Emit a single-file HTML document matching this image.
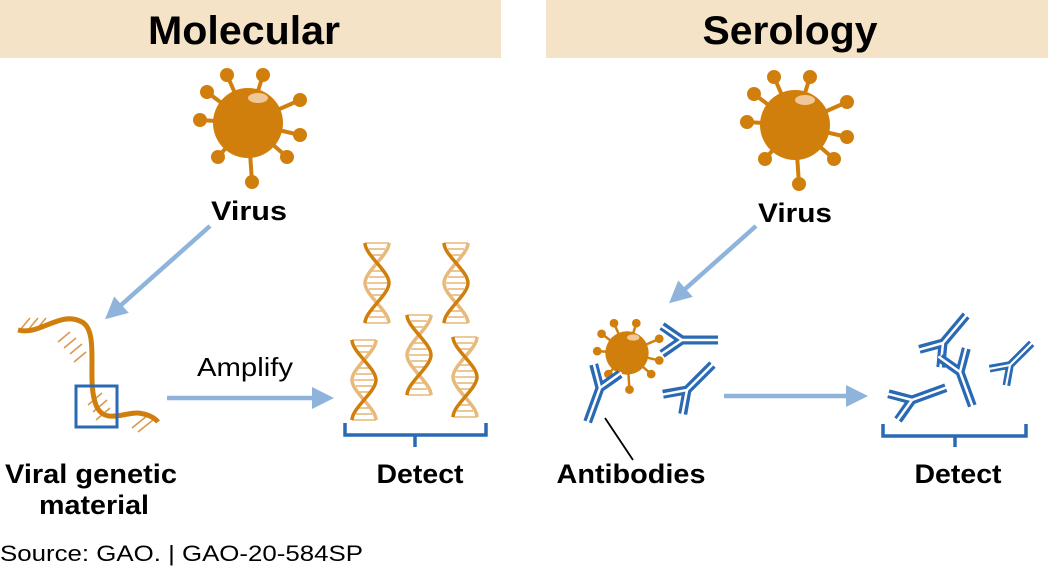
<!DOCTYPE html>
<html><head><meta charset="utf-8"><style>
html,body{margin:0;padding:0;background:#fff}
svg{display:block}
text{font-family:"Liberation Sans",Arial,sans-serif}
</style></head><body>
<svg width="1048" height="574" viewBox="0 0 1048 574" xmlns="http://www.w3.org/2000/svg">
<defs>
<symbol id="virus" overflow="visible">
<g stroke="#d17f0c" stroke-width="4" fill="#d17f0c">
<line x1="0" y1="0" x2="-21" y2="-48"/><line x1="0" y1="0" x2="15" y2="-48"/>
<line x1="0" y1="0" x2="-41" y2="-31"/><line x1="0" y1="0" x2="52" y2="-23"/>
<line x1="0" y1="0" x2="-48" y2="-3"/><line x1="0" y1="0" x2="52" y2="12"/>
<line x1="0" y1="0" x2="-30" y2="34"/><line x1="0" y1="0" x2="39" y2="34"/>
<line x1="0" y1="0" x2="4" y2="59"/>
<g stroke="none">
<circle cx="-21" cy="-48" r="7"/><circle cx="15" cy="-48" r="7"/>
<circle cx="-41" cy="-31" r="7"/><circle cx="52" cy="-23" r="7"/>
<circle cx="-48" cy="-3" r="7"/><circle cx="52" cy="12" r="7"/>
<circle cx="-30" cy="34" r="7"/><circle cx="39" cy="34" r="7"/>
<circle cx="4" cy="59" r="7"/>
<circle cx="0" cy="0" r="35"/></g>
</g>
<ellipse cx="10" cy="-25" rx="10" ry="5" fill="#f0c898"/>
</symbol>
<symbol id="dna" overflow="visible">
<g stroke="#e8b97a" stroke-width="1.6">
<line x1="2" y1="0" x2="26" y2="0"/><line x1="6" y1="6" x2="22" y2="6"/><line x1="9" y1="12" x2="19" y2="12"/>
<line x1="9" y1="28" x2="19" y2="28"/><line x1="6" y1="34" x2="22" y2="34"/><line x1="6" y1="46" x2="22" y2="46"/>
<line x1="9" y1="52" x2="19" y2="52"/><line x1="9" y1="68" x2="19" y2="68"/><line x1="6" y1="74" x2="22" y2="74"/><line x1="2" y1="80" x2="26" y2="80"/>
<line x1="4" y1="40" x2="24" y2="40"/>
</g>
<path d="M26 0 C26 12 2 28 2 40 C2 52 26 68 26 80" fill="none" stroke="#e8b97a" stroke-width="3.5"/>
<path d="M2 0 C2 12 26 28 26 40 C26 52 2 68 2 80" fill="none" stroke="#d17f0c" stroke-width="3.5"/>
</symbol>
<symbol id="ab" overflow="visible">
<path d="M0 36 L0 0 L-14 -20 M0 0 L14 -20" fill="none" stroke="#2a6ab5" stroke-width="9"/>
<path d="M0 38 L0 0 L-15 -22 M0 0 L15 -22" fill="none" stroke="#fff" stroke-width="2.5"/>
</symbol>
<marker id="ah" markerWidth="8" markerHeight="8" refX="2" refY="4" orient="auto" markerUnits="userSpaceOnUse" viewBox="0 0 8 8" style="overflow:visible">
<path d="M0 -7 L22 4 L0 15 Z" fill="#8fb4dc"/>
</marker>
</defs>

<rect x="0" y="0" width="501" height="58" fill="#f5e3c8"/>
<rect x="546" y="0" width="502" height="58" fill="#f5e3c8"/>
<text x="244" y="44" font-size="40" font-weight="bold" text-anchor="middle" textLength="192" lengthAdjust="spacingAndGlyphs">Molecular</text>
<text x="790" y="44" font-size="40" font-weight="bold" text-anchor="middle" textLength="175" lengthAdjust="spacingAndGlyphs">Serology</text>

<use href="#virus" x="248" y="123"/>
<use href="#virus" x="795" y="125"/>
<text x="249" y="220" font-size="27" font-weight="bold" text-anchor="middle" textLength="76" lengthAdjust="spacingAndGlyphs">Virus</text>
<text x="795" y="222" font-size="27" font-weight="bold" text-anchor="middle" textLength="74" lengthAdjust="spacingAndGlyphs">Virus</text>

<g stroke="#8fb4dc" stroke-width="4.5" fill="none">
<line x1="210" y1="226" x2="120" y2="306" marker-end="url(#ah)"/>
<line x1="167" y1="398" x2="314" y2="398" marker-end="url(#ah)"/>
<line x1="756" y1="226" x2="684" y2="290" marker-end="url(#ah)"/>
<line x1="724" y1="396" x2="848" y2="396" marker-end="url(#ah)"/>
</g>

<!-- strand -->
<g stroke="#d9994a" stroke-width="1.6">
<line x1="30" y1="318" x2="20" y2="330"/><line x1="38" y1="318" x2="28" y2="330"/><line x1="46" y1="318" x2="36" y2="330"/>
<line x1="70" y1="332" x2="58" y2="342"/><line x1="76" y1="338" x2="64" y2="348"/><line x1="82" y1="344" x2="70" y2="354"/><line x1="86" y1="352" x2="74" y2="362"/>
<line x1="102" y1="393" x2="88" y2="405"/><line x1="107" y1="400" x2="93" y2="412"/><line x1="110" y1="408" x2="96" y2="420"/>
<line x1="148" y1="415" x2="132" y2="428"/><line x1="153" y1="420" x2="138" y2="432"/>
</g>
<path d="M18 330 C40 336 60 310 82 322 C100 332 86 380 96 405 C104 425 125 412 138 413 C148 414 155 418 158 422" fill="none" stroke="#d17f0c" stroke-width="5"/>
<rect x="76" y="386" width="41" height="41" fill="none" stroke="#2a6ab5" stroke-width="3"/>

<text x="245" y="376" font-size="26" text-anchor="middle" textLength="96" lengthAdjust="spacingAndGlyphs">Amplify</text>

<use href="#dna" x="363" y="243"/>
<use href="#dna" x="442" y="243"/>
<use href="#dna" x="350" y="340"/>
<use href="#dna" x="405" y="315"/>
<use href="#dna" x="451" y="337"/>

<g fill="none" stroke="#2a6ab5" stroke-width="3.5">
<path d="M345 423 V435 H486 V423 M415 435 V447"/>
<path d="M883 424 V436 H1026 V424 M955 436 V447"/>
</g>

<!-- serology small virus -->
<use href="#virus" transform="translate(627,353) scale(0.62)"/>
<use href="#ab" transform="translate(682,340) rotate(-90)"/>
<use href="#ab" transform="translate(600,388) rotate(20)"/>
<use href="#ab" transform="translate(687,390) rotate(-135)"/>
<use href="#ab" transform="translate(943,343) rotate(-140)"/>
<use href="#ab" transform="translate(1010,365) rotate(-135) scale(0.85)"/>
<use href="#ab" transform="translate(960,372) rotate(-20)"/>
<use href="#ab" transform="translate(912,400) rotate(-110)"/>
<line x1="605" y1="418" x2="633" y2="460" stroke="#000" stroke-width="1.8"/>

<text x="91" y="483" font-size="27" font-weight="bold" text-anchor="middle" textLength="172" lengthAdjust="spacingAndGlyphs">Viral genetic</text>
<text x="94" y="514" font-size="27" font-weight="bold" text-anchor="middle" textLength="110" lengthAdjust="spacingAndGlyphs">material</text>
<text x="420" y="483" font-size="27" font-weight="bold" text-anchor="middle" textLength="87" lengthAdjust="spacingAndGlyphs">Detect</text>
<text x="631" y="483" font-size="27" font-weight="bold" text-anchor="middle" textLength="149" lengthAdjust="spacingAndGlyphs">Antibodies</text>
<text x="958" y="483" font-size="27" font-weight="bold" text-anchor="middle" textLength="87" lengthAdjust="spacingAndGlyphs">Detect</text>
<text x="0" y="561" font-size="22" textLength="363" lengthAdjust="spacingAndGlyphs">Source: GAO.  |  GAO-20-584SP</text>
</svg>
</body></html>
